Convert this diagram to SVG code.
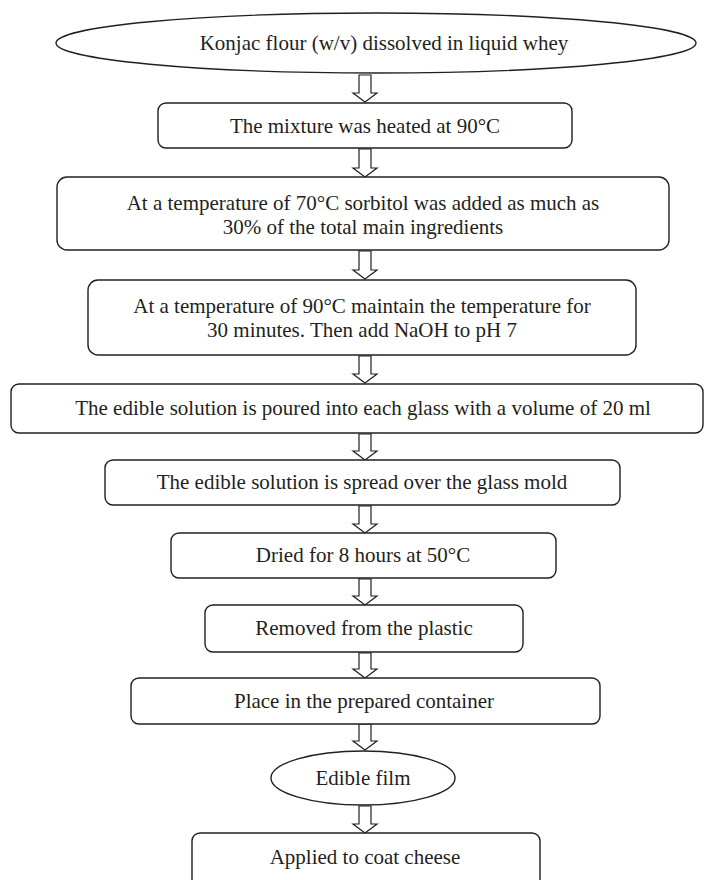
<svg xmlns="http://www.w3.org/2000/svg" width="706" height="880" viewBox="0 0 706 880">
<defs>
<style>
.n{fill:#fff;stroke:#231f20;stroke-width:1.4}
.t{font-family:"Liberation Serif","Times New Roman",serif;font-size:21px;fill:#231f20;text-anchor:middle;dominant-baseline:central}
.a{fill:#fff;stroke:#231f20;stroke-width:1.2;stroke-linejoin:miter}
</style>
</defs>
<rect width="706" height="880" fill="#fff"/>
<g id="connectors">
<path class="a" d="M359,75 H371 V93 H377 L365,102 L353,93 H359 Z"/>
<path class="a" d="M359,149 H371 V168 H377 L365,177 L353,168 H359 Z"/>
<path class="a" d="M359,251 H371 V270 H377 L365,279 L353,270 H359 Z"/>
<path class="a" d="M359,356 H371 V374 H377 L365,383 L353,374 H359 Z"/>
<path class="a" d="M359,434 H371 V451 H377 L365,460 L353,451 H359 Z"/>
<path class="a" d="M359,506 H371 V524 H377 L365,533 L353,524 H359 Z"/>
<path class="a" d="M359,579 H371 V596 H377 L365,605 L353,596 H359 Z"/>
<path class="a" d="M359,653 H371 V669 H377 L365,678 L353,669 H359 Z"/>
<path class="a" d="M359,724 H371 V741 H377 L365,750 L353,741 H359 Z"/>
<path class="a" d="M359,806 H371 V824 H377 L365,833 L353,824 H359 Z"/>
</g>
<g id="n1"><ellipse class="n" cx="376" cy="43" rx="320" ry="30"/><text class="t" x="384" y="43">Konjac flour (w/v) dissolved in liquid whey</text></g>
<g id="n2"><rect class="n" x="158" y="103" width="414" height="45" rx="8"/><text class="t" x="365" y="126">The mixture was heated at 90°C</text></g>
<g id="n3"><rect class="n" x="57" y="177" width="612" height="73" rx="10"/><text class="t" x="363" y="203">At a temperature of 70°C sorbitol was added as much as</text><text class="t" x="363" y="227">30% of the total main ingredients</text></g>
<g id="n4"><rect class="n" x="88" y="280" width="548" height="75" rx="10"/><text class="t" x="362" y="306">At a temperature of 90°C maintain the temperature for</text><text class="t" x="362" y="330">30 minutes. Then add NaOH to pH 7</text></g>
<g id="n5"><rect class="n" x="11" y="384" width="692" height="49" rx="8"/><text class="t" x="363" y="408">The edible solution is poured into each glass with a volume of 20 ml</text></g>
<g id="n6"><rect class="n" x="105" y="460" width="515" height="45" rx="8"/><text class="t" x="362" y="482">The edible solution is spread over the glass mold</text></g>
<g id="n7"><rect class="n" x="171" y="533" width="385" height="45" rx="8"/><text class="t" x="363" y="555">Dried for 8 hours at 50°C</text></g>
<g id="n8"><rect class="n" x="205" y="605" width="318" height="47" rx="8"/><text class="t" x="364" y="628">Removed from the plastic</text></g>
<g id="n9"><rect class="n" x="131" y="678" width="469" height="46" rx="8"/><text class="t" x="364" y="701">Place in the prepared container</text></g>
<g id="n10"><ellipse class="n" cx="363" cy="778" rx="92" ry="27"/><text class="t" x="363" y="778">Edible film</text></g>
<g id="n11"><rect class="n" x="192" y="833" width="348" height="60" rx="8"/><text class="t" x="365" y="857">Applied to coat cheese</text></g>
</svg>
